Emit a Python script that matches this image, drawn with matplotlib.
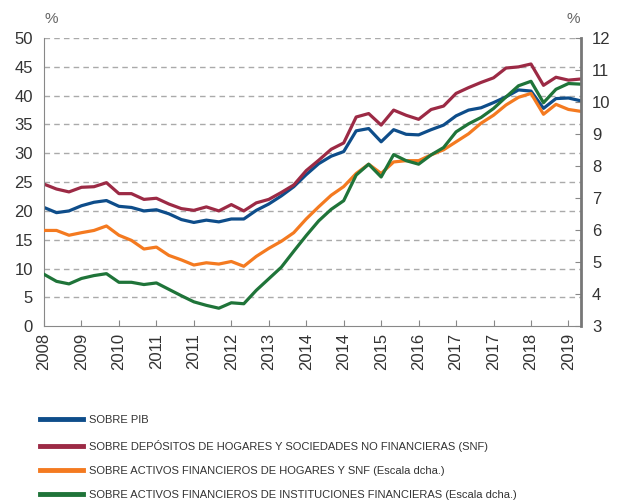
import matplotlib
matplotlib.use("Agg")
import matplotlib.pyplot as plt
from matplotlib import font_manager

plt.rcParams['font.family'] = ['Liberation Sans', 'DejaVu Sans']

# trimestral, 44 observaciones
etiquetas_x = ['2008', '2009', '2010', '2011', '2011', '2012', '2013', '2014',
               '2014', '2015', '2016', '2017', '2017', '2018', '2019']

sobre_pib = [20.6, 19.7, 20.0, 20.9, 21.5, 21.8, 20.8, 20.6, 20.0, 20.2,
             19.5, 18.5, 18.0, 18.4, 18.1, 18.6, 18.6, 20.1, 21.2, 22.6,
             24.2, 26.3, 28.2, 29.5, 30.3, 33.9, 34.3, 32.0, 34.1, 33.3,
             33.2, 34.1, 34.9, 36.5, 37.5, 37.9, 38.8, 39.8, 41.0, 40.8,
             37.8, 39.5, 39.6, 39.1]

sobre_depositos = [24.65, 23.8, 23.3, 24.1, 24.2, 24.9, 23.0, 23.0, 22.0, 22.2,
                   21.2, 20.4, 20.1, 20.7, 20.0, 21.1, 20.0, 21.4, 22.0, 23.2,
                   24.5, 27.0, 28.8, 30.7, 31.8, 36.3, 36.9, 34.9, 37.5, 36.6,
                   35.9, 37.6, 38.2, 40.4, 41.4, 42.3, 43.1, 44.8, 45.0, 45.5,
                   41.8, 43.2, 42.7, 42.9]

# escala derecha
sobre_activos_hogares = [5.99, 5.99, 5.84, 5.92, 5.99, 6.13, 5.84, 5.68, 5.41, 5.47,
                         5.21, 5.07, 4.91, 4.98, 4.94, 5.02, 4.87, 5.18, 5.43, 5.65,
                         5.92, 6.35, 6.73, 7.09, 7.36, 7.77, 8.06, 7.77, 8.13, 8.17,
                         8.17, 8.35, 8.51, 8.76, 9.01, 9.34, 9.59, 9.91, 10.15, 10.27,
                         9.62, 9.93, 9.77, 9.71]

sobre_activos_if = [4.62, 4.40, 4.32, 4.49, 4.58, 4.64, 4.37, 4.37, 4.30, 4.35,
                    4.15, 3.95, 3.76, 3.65, 3.56, 3.73, 3.70, 4.12, 4.48, 4.84,
                    5.34, 5.83, 6.29, 6.65, 6.92, 7.72, 8.06, 7.66, 8.36, 8.17,
                    8.06, 8.35, 8.58, 9.07, 9.32, 9.52, 9.80, 10.16, 10.51, 10.65,
                    9.98, 10.40, 10.58, 10.56]

azul = '#0e4d8a'
rojo = '#9c2a45'
naranja = '#f47a20'
verde = '#1f7439'
gris = '#888888'
texto = '#333333'

# fuente estrecha para la leyenda si existe
nombres = {f.name for f in font_manager.fontManager.ttflist}
fuente_leyenda = 'Liberation Sans Narrow' if 'Liberation Sans Narrow' in nombres else 'Liberation Sans'

x = list(range(len(sobre_pib)))

fig = plt.figure(figsize=(6.2, 5.01), dpi=100)
ax = fig.add_axes([0.071, 0.349, 0.866, 0.575])
ax2 = ax.twinx()

l1, = ax.plot(x, sobre_pib, color=azul, lw=2.3, label='SOBRE PIB')
l2, = ax.plot(x, sobre_depositos, color=rojo, lw=2.3,
              label='SOBRE DEPÓSITOS DE HOGARES Y SOCIEDADES NO FINANCIERAS (SNF)')
l3, = ax2.plot(x, sobre_activos_hogares, color=naranja, lw=2.3,
               label='SOBRE ACTIVOS FINANCIEROS DE HOGARES Y SNF (Escala dcha.)')
l4, = ax2.plot(x, sobre_activos_if, color=verde, lw=2.3,
               label='SOBRE ACTIVOS FINANCIEROS DE INSTITUCIONES FINANCIERAS (Escala dcha.)')

ax.set_xlim(0, 43)
ax.set_ylim(0, 50)
ax2.set_ylim(3, 12)
ax.set_yticks(range(0, 51, 5))
ax2.set_yticks(range(3, 13))

ax.set_xticks(range(0, 43, 3))
ax.set_xticklabels(etiquetas_x, rotation=90)

for y in range(5, 51, 5):
    ax.axhline(y, color='#aaaaaa', lw=1, ls=(0, (4, 3)), zorder=0)

ax.spines['top'].set_visible(False)
ax2.spines['top'].set_visible(False)
ax.spines['left'].set_color(gris)
ax.spines['bottom'].set_color(gris)
ax2.spines['left'].set_visible(False)
ax2.spines['bottom'].set_visible(False)
ax2.spines['right'].set_color('#777777')
ax2.spines['right'].set_linewidth(2)
ax.spines['right'].set_visible(False)

ax.tick_params(axis='y', length=0, labelsize=12, labelcolor=texto, pad=8)
ax.tick_params(axis='x', direction='in', length=4, color=gris, labelsize=12,
               labelcolor=texto, pad=5)
ax2.tick_params(axis='y', direction='in', length=4, color=gris, labelsize=12,
                labelcolor=texto, pad=8)

fig.text(0.082, 0.955, '%', fontsize=11, color='#666666', ha='center')
fig.text(0.925, 0.955, '%', fontsize=11, color='#666666', ha='center')

leg = fig.legend(handles=[l1, l2, l3, l4], loc='upper left',
                 bbox_to_anchor=(0.048, 0.191), frameon=False,
                 prop={'family': fuente_leyenda, 'size': 8},
                 handlelength=3.9, handletextpad=0.55, labelspacing=1.28)
for t in leg.get_texts():
    t.set_color(texto)
for h in leg.legend_handles:
    h.set_linewidth(3.5)

fig.savefig('out.png', dpi=100)
